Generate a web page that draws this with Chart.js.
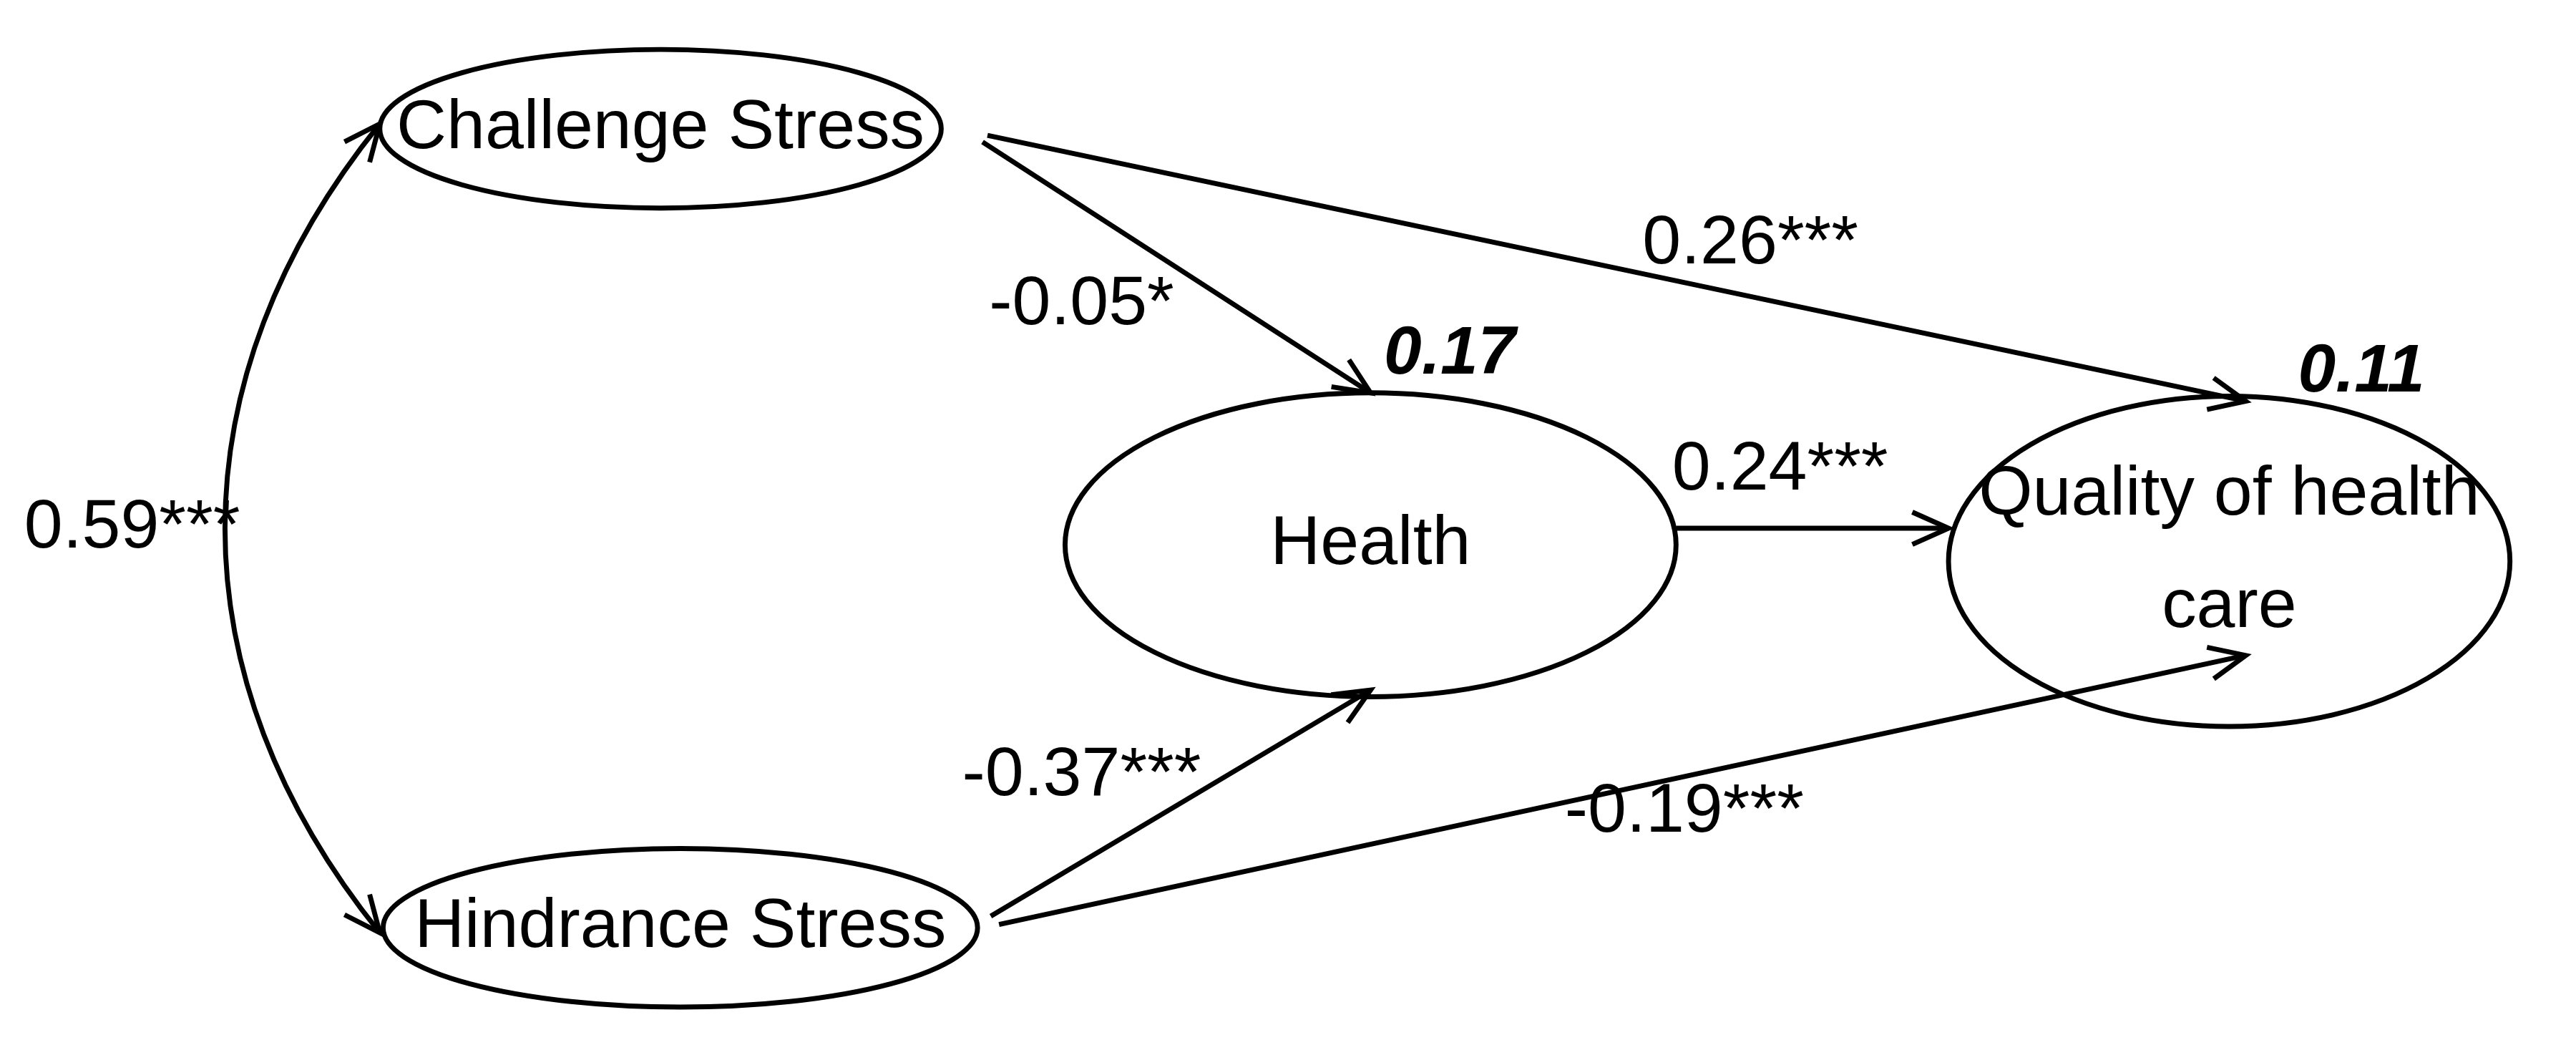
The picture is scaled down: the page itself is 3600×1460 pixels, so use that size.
<!DOCTYPE html>
<html>
<head>
<meta charset="utf-8">
<script src="https://cdn.jsdelivr.net/npm/chart.js@4/dist/chart.umd.min.js"></script>
<style>
  html, body { margin: 0; padding: 0; background: #fff; }
  #wrap { width: 3600px; height: 1460px; }
</style>
</head>
<body>
<div id="wrap"><canvas id="diagram"></canvas></div>
<script>
// diagram units: 1560 x 633 (scaled to the canvas through the chart's scales)
const nodeNames = ['Challenge Stress', 'Hindrance Stress', 'Health', 'Quality of health|care'];
const nodeX = [400, 412, 830, 1350];
const nodeY = [78, 562, 330, 340];
const nodeRx = [170, 180, 185, 170];
const nodeRy = [48, 48, 92, 100];

// paths: from point -> to point, coefficient label and its position
const pathFrom = [[595, 86], [598, 82], [1015, 320], [600, 555], [605, 560]];
const pathTo = [[830, 238], [1360, 243], [1180, 320], [830, 418], [1360, 397]];
const pathLabels = ['-0.05*', '0.26***', '0.24***', '-0.37***', '-0.19***'];
const pathLabelPos = [[655, 185], [1060, 148], [1078, 285], [655, 470], [1020, 492]];

// correlation between the two stresses
const corrLabel = '0.59***';
const corrEnds = [[230, 75], [230, 565]];
const corrCtrl = [[105, 230], [105, 410]];
const corrLabelPos = [80, 320];

// R-squared values
const r2Labels = ['0.17', '0.11'];
const r2Pos = [[878, 215], [1430, 226]];

const diagramPlugin = {
  id: 'diagram',
  afterDatasetsDraw(chart) {
    const ctx = chart.ctx;
    const xs = chart.scales.x, ys = chart.scales.y;
    const px = v => xs.getPixelForValue(v);
    const py = v => ys.getPixelForValue(v);
    const k = (px(1560) - px(0)) / 1560;
    ctx.save();
    ctx.strokeStyle = '#000';
    ctx.fillStyle = '#000';
    ctx.lineWidth = 3 * k;

    function arrowHead(x1, y1, x2, y2) {
      const a = Math.atan2(y2 - y1, x2 - x1);
      const len = 24 * k, sp = 0.42;
      ctx.beginPath();
      ctx.moveTo(x2 - len * Math.cos(a - sp), y2 - len * Math.sin(a - sp));
      ctx.lineTo(x2, y2);
      ctx.lineTo(x2 - len * Math.cos(a + sp), y2 - len * Math.sin(a + sp));
      ctx.stroke();
    }

    // ellipses and names
    ctx.font = (42 * k) + 'px "Liberation Sans", Arial, sans-serif';
    ctx.textAlign = 'center';
    ctx.textBaseline = 'middle';
    nodeNames.forEach((n, i) => {
      ctx.beginPath();
      ctx.ellipse(px(nodeX[i]), py(nodeY[i]), nodeRx[i] * k, nodeRy[i] * k, 0, 0, Math.PI * 2);
      ctx.stroke();
      const lines = n.split('|');
      lines.forEach((l, j) => {
        const off = (j - (lines.length - 1) / 2) * 68 - (lines.length - 1) * 6;
        ctx.fillText(l, px(nodeX[i]), py(nodeY[i] + off));
      });
    });

    // straight paths
    ctx.font = (42 * k) + 'px "Liberation Sans", Arial, sans-serif';
    pathFrom.forEach((f, i) => {
      const t = pathTo[i];
      ctx.beginPath();
      ctx.moveTo(px(f[0]), py(f[1]));
      ctx.lineTo(px(t[0]), py(t[1]));
      ctx.stroke();
      arrowHead(px(f[0]), py(f[1]), px(t[0]), py(t[1]));
      ctx.fillText(pathLabels[i], px(pathLabelPos[i][0]), py(pathLabelPos[i][1]));
    });

    // curved double-headed correlation
    const [a, b] = corrEnds, [c1, c2] = corrCtrl;
    ctx.beginPath();
    ctx.moveTo(px(a[0]), py(a[1]));
    ctx.bezierCurveTo(px(c1[0]), py(c1[1]), px(c2[0]), py(c2[1]), px(b[0]), py(b[1]));
    ctx.stroke();
    arrowHead(px(c1[0]), py(c1[1]), px(a[0]), py(a[1]));
    arrowHead(px(c2[0]), py(c2[1]), px(b[0]), py(b[1]));
    ctx.fillText(corrLabel, px(corrLabelPos[0]), py(corrLabelPos[1]));

    // R-squared
    ctx.font = 'italic bold ' + (41 * k) + 'px "Liberation Sans", Arial, sans-serif';
    r2Labels.forEach((l, i) => ctx.fillText(l, px(r2Pos[i][0]), py(r2Pos[i][1])));
    ctx.restore();
  }
};

new Chart(document.getElementById('diagram'), {
  type: 'scatter',
  data: {
    datasets: [{
      data: nodeX.map((x, i) => ({ x: x, y: nodeY[i] })),
      pointRadius: 0
    }]
  },
  options: {
    responsive: true,
    maintainAspectRatio: false,
    animation: false,
    layout: { padding: 0 },
    plugins: { legend: { display: false }, tooltip: { enabled: false } },
    scales: {
      x: { type: 'linear', min: 0, max: 1560, display: false },
      y: { type: 'linear', min: 0, max: 633, reverse: true, display: false }
    }
  },
  plugins: [diagramPlugin]
});
</script>
</body>
</html>
